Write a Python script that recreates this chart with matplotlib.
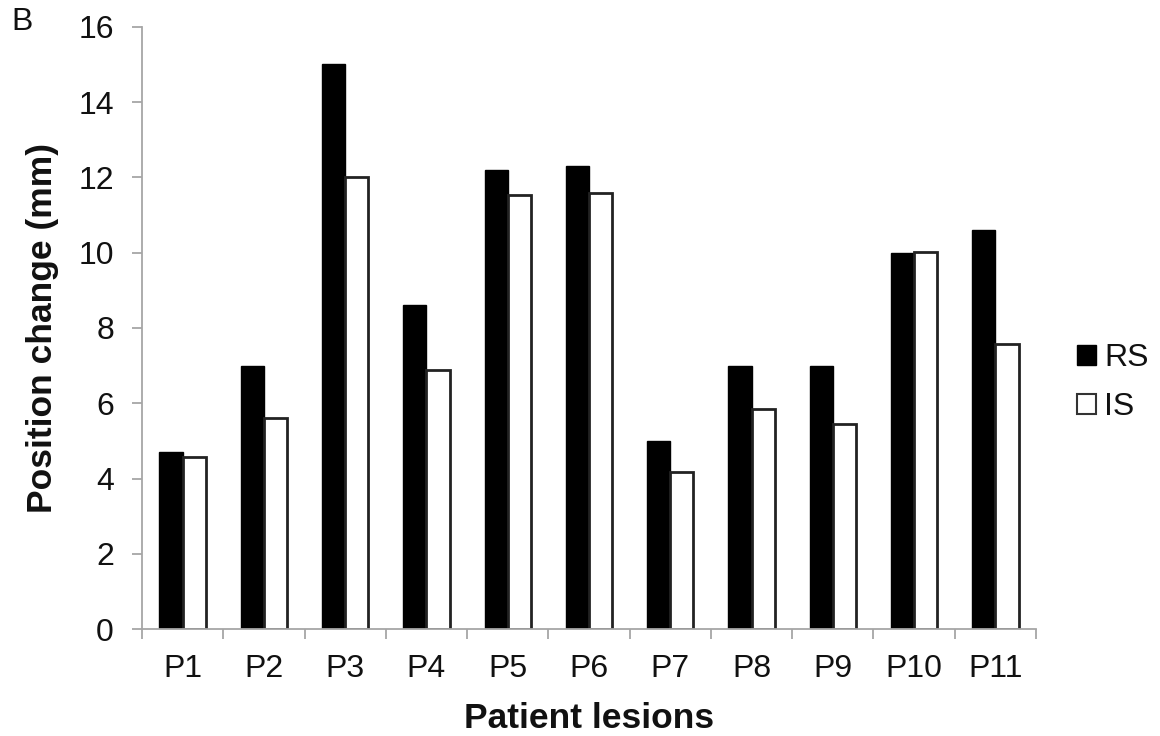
import numpy as np
import matplotlib
matplotlib.use("Agg")
import matplotlib.pyplot as plt
from matplotlib.patches import Patch

plt.rcParams['font.family'] = ['Liberation Sans', 'DejaVu Sans']

# values
lesions = ["P1", "P2", "P3", "P4", "P5", "P6", "P7", "P8", "P9", "P10", "P11"]
rs_vals = [4.7, 7.0, 15.0, 8.6, 12.2, 12.3, 5.0, 7.0, 7.0, 10.0, 10.6]
is_vals = [4.57, 5.62, 12.0, 6.88, 11.53, 11.58, 4.18, 5.85, 5.46, 10.03, 7.58]
y_ticks = [0, 2, 4, 6, 8, 10, 12, 14, 16]

AX_GRAY = "#a6a6a6"
TXT = "#111111"
FS_TICK = 23
FS_LAB = 25.5

fig = plt.figure(figsize=(11.6, 7.36), dpi=100)
ax = fig.add_axes([0.1224, 0.1450, 0.7707, 0.8187])

x = np.arange(len(lesions))
w = 0.285
ax.bar(x - w / 2, rs_vals, w, color="black", edgecolor="black", linewidth=1, label="RS")
ax.bar(x + w / 2, is_vals, w, color="white", edgecolor="#222222", linewidth=2, label="IS")

ax.set_xlim(-0.5, len(lesions) - 0.5)
ax.set_ylim(0, 16)

# y axis
ax.set_yticks(y_ticks)
ax.set_yticklabels([str(t) for t in y_ticks])
ax.tick_params(axis="y", direction="out", length=7.2, width=1.3, color=AX_GRAY,
               labelsize=FS_TICK, labelcolor=TXT, pad=13)

# x axis: tick marks between categories, labels at centers
ax.set_xticks(np.arange(len(lesions) + 1) - 0.5)
ax.set_xticklabels([])
ax.set_xticks(x, minor=True)
ax.set_xticklabels(lesions, minor=True)
ax.tick_params(axis="x", which="major", direction="out", length=7.2, width=1.3, color=AX_GRAY)
ax.tick_params(axis="x", which="minor", length=0, labelsize=FS_TICK, labelcolor=TXT, pad=18)

for s in ["top", "right"]:
    ax.spines[s].set_visible(False)
for s in ["left", "bottom"]:
    ax.spines[s].set_color(AX_GRAY)
    ax.spines[s].set_linewidth(1.3)

ax.set_ylabel("Position change (mm)", fontsize=FS_LAB, fontweight="bold", color=TXT, labelpad=14)
ax.set_xlabel("Patient lesions", fontsize=FS_LAB, fontweight="bold", color=TXT, labelpad=13)

handles = [Patch(facecolor="black", edgecolor="black", label="RS"),
           Patch(facecolor="white", edgecolor="#333333", linewidth=1.5, label="IS")]
ax.legend(handles=handles, loc="center left", bbox_to_anchor=(1077 / 1160, 1 - 382.5 / 736),
          bbox_transform=fig.transFigure, frameon=False, fontsize=FS_TICK,
          handlelength=0.6, handleheight=0.6, handletextpad=0.25, labelspacing=0.6,
          borderpad=0, borderaxespad=0, labelcolor=TXT)

fig.text(0.010, 0.991, "B", fontsize=FS_TICK, color=TXT, va="top", ha="left")

fig.savefig("out.png", dpi=100)
